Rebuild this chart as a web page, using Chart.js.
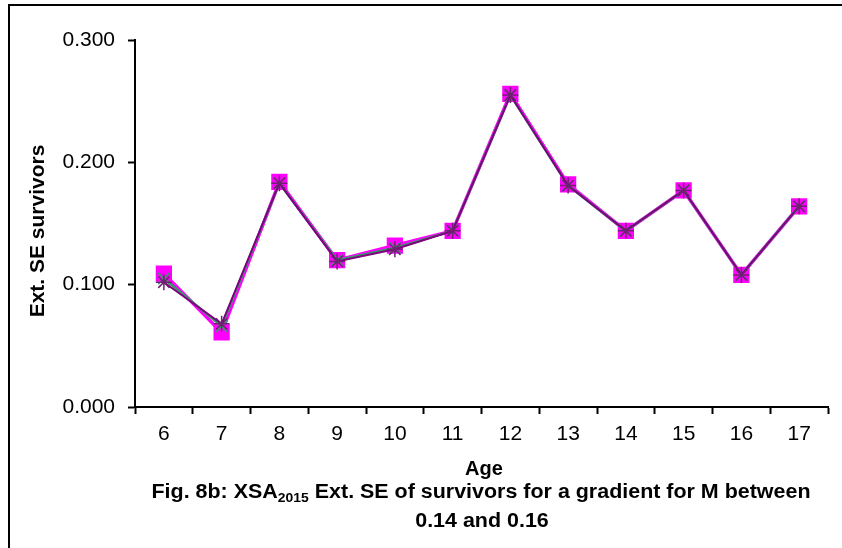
<!DOCTYPE html>
<html>
<head>
<meta charset="utf-8">
<script src="https://cdn.jsdelivr.net/npm/chart.js@4/dist/chart.umd.min.js"></script>
<style>
  html, body { margin: 0; padding: 0; background: #fff; }
  canvas { display: block; }
</style>
</head>
<body>
<canvas id="c" width="842" height="548"></canvas>
<script>
// Ages on the x axis
const ages = ['6', '7', '8', '9', '10', '11', '12', '13', '14', '15', '16', '17'];

// Ext. SE of survivors, three runs of the M gradient
const seRunA = [0.109, 0.061, 0.184, 0.120, 0.132, 0.144, 0.256, 0.182, 0.144, 0.177, 0.108, 0.164];
const seRunB = [0.105, 0.066, 0.183, 0.120, 0.130, 0.144, 0.255, 0.181, 0.144, 0.177, 0.108, 0.164];
const seRunC = [0.102, 0.068, 0.183, 0.119, 0.129, 0.144, 0.255, 0.181, 0.144, 0.177, 0.108, 0.164];

// y axis ticks
const yTicks = [0.0, 0.1, 0.2, 0.3];

const FONT = '"Liberation Sans", Arial, sans-serif';

// Frame, axis titles and caption
const decorations = {
  id: 'decorations',
  afterDraw(chart) {
    const ctx = chart.ctx;
    ctx.save();
    // outer frame (runs off the right and bottom edges)
    ctx.strokeStyle = '#000';
    ctx.lineWidth = 2;
    ctx.beginPath();
    ctx.moveTo(9, 560);
    ctx.lineTo(9, 5);
    ctx.lineTo(860, 5);
    ctx.stroke();

    ctx.fillStyle = '#000';
    // y axis title
    ctx.save();
    ctx.translate(38, 231);
    ctx.rotate(-Math.PI / 2);
    ctx.font = 'bold 21px ' + FONT;
    ctx.textAlign = 'center';
    ctx.textBaseline = 'middle';
    ctx.fillText('Ext. SE survivors', 0, 0);
    ctx.restore();

    // x axis title
    ctx.font = 'bold 20px ' + FONT;
    ctx.textAlign = 'center';
    ctx.textBaseline = 'middle';
    ctx.fillText('Age', 484, 469);

    // caption line 1 with subscript
    const big = 'bold 20px ' + FONT;
    const small = 'bold 13px ' + FONT;
    const p1 = 'Fig. 8b: XSA', sub = '2015', p2 = ' Ext. SE of survivors for a gradient for M between';
    ctx.font = big; const w1 = ctx.measureText(p1).width; const w3 = ctx.measureText(p2).width;
    ctx.font = small; const w2 = ctx.measureText(sub).width;
    const total = w1 + w2 + w3;
    const target = 659;
    const sx = target / total;
    ctx.save();
    ctx.translate(481 - target / 2, 498);
    ctx.scale(sx, 1);
    ctx.textAlign = 'left';
    ctx.textBaseline = 'alphabetic';
    ctx.font = big; ctx.fillText(p1, 0, 0);
    ctx.font = small; ctx.fillText(sub, w1, 4);
    ctx.font = big; ctx.fillText(p2, w1 + w2, 0);
    ctx.restore();

    // caption line 2
    ctx.save();
    ctx.translate(482, 521);
    ctx.scale(sx, 1);
    ctx.font = big;
    ctx.textAlign = 'center';
    ctx.fillText('0.14 and 0.16', 0, 0);
    ctx.restore();

    ctx.restore();
  }
};

new Chart(document.getElementById('c'), {
  type: 'line',
  data: {
    labels: ages,
    datasets: [
      {
        data: seRunC,
        borderColor: '#800080',
        backgroundColor: '#800080',
        borderWidth: 2,
        pointStyle: 'star',
        pointRadius: 8,
        pointBorderWidth: 1.5,
        pointBorderColor: '#702070',
        tension: 0
      },
      {
        data: seRunB,
        borderColor: '#339966',
        backgroundColor: '#339966',
        borderWidth: 2.5,
        pointStyle: 'crossRot',
        pointRadius: 8,
        pointBorderWidth: 1.5,
        tension: 0
      },
      {
        data: seRunA,
        borderColor: '#FF00FF',
        backgroundColor: '#FF00FF',
        borderWidth: 3.5,
        pointStyle: 'rect',
        pointRadius: 11.5,
        pointBorderWidth: 0,
        tension: 0
      }
    ]
  },
  options: {
    responsive: false,
    devicePixelRatio: 1,
    animation: false,
    layout: { padding: { left: 0, top: 40, right: 14, bottom: 101 } },
    plugins: {
      legend: { display: false },
      tooltip: { enabled: false }
    },
    scales: {
      x: {
        offset: true,
        grid: {
          offset: true,
          drawOnChartArea: false,
          drawTicks: true,
          tickLength: 7,
          tickWidth: 2,
          tickColor: '#000'
        },
        border: { display: true, color: '#000', width: 2 },
        ticks: {
          color: '#000',
          font: { family: FONT, size: 21 },
          padding: 8,
          maxRotation: 0,
          autoSkip: false
        },
        afterFit(scale) { scale.height = 40; }
      },
      y: {
        min: yTicks[0],
        max: yTicks[yTicks.length - 1],
        afterBuildTicks(scale) { scale.ticks = yTicks.map(v => ({ value: v })); },
        grid: {
          drawOnChartArea: false,
          drawTicks: true,
          tickLength: 7,
          tickWidth: 2,
          tickColor: '#000'
        },
        border: { display: true, color: '#000', width: 2 },
        ticks: {
          color: '#000',
          font: { family: FONT, size: 21 },
          padding: 13,
          callback: v => Number(v).toFixed(3)
        },
        afterFit(scale) { scale.width = 135; }
      }
    }
  },
  plugins: [decorations]
});
</script>
</body>
</html>
